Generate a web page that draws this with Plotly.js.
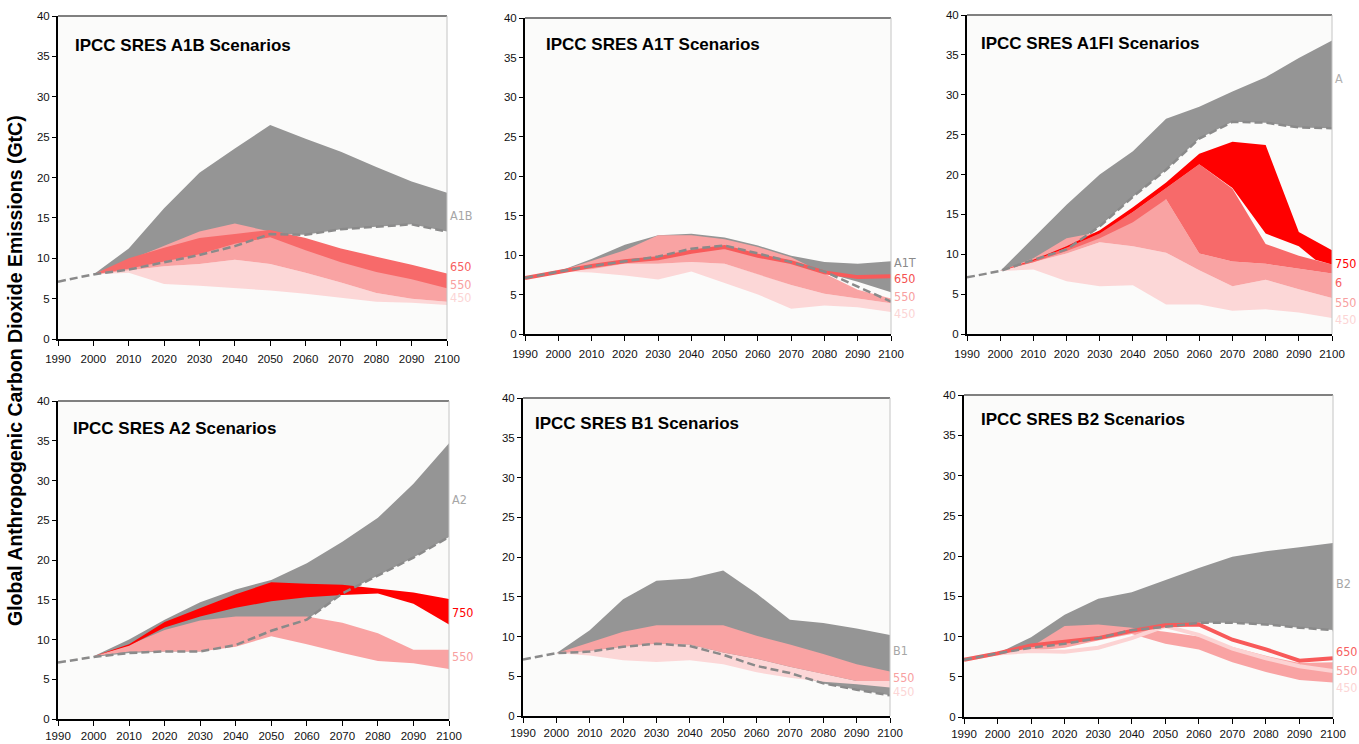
<!DOCTYPE html>
<html>
<head>
<meta charset="utf-8">
<script src="https://cdn.plot.ly/plotly-3.0.1.min.js"></script>
<style>html,body{margin:0;padding:0;background:#fff;}#chart{width:1359px;height:744px;}</style>
</head>
<body>
<div id="chart"></div>
<script>
// ---------- DATA ----------
const YEARS = [1990,2000,2010,2020,2030,2040,2050,2060,2070,2080,2090,2100];
const BAND_YEARS = [2000,2010,2020,2030,2040,2050,2060,2070,2080,2090,2100];
const PANEL_TITLES = ["IPCC SRES A1B Scenarios","IPCC SRES A1T Scenarios","IPCC SRES A1FI Scenarios","IPCC SRES A2 Scenarios","IPCC SRES B1 Scenarios","IPCC SRES B2 Scenarios"];
const Y_TITLE = "Global Anthropogenic Carbon Dioxide Emissions (GtC)";

// A1B
const a1b_base    = [7.1,8.0,8.6,9.5,10.4,11.5,13.0,12.9,13.6,13.9,14.2,13.3];
const a1b_gray_hi = [8.0,11.2,16.2,20.6,23.6,26.5,24.8,23.2,21.3,19.5,18.1];
const a1b_650_hi  = [8.0,10.0,11.3,12.5,13.0,13.5,12.5,11.2,10.2,9.2,8.1];
const a1b_650_lo  = [8.0,8.7,9.6,10.5,11.8,12.6,11.0,9.5,8.3,7.4,6.3];
const a1b_550_hi  = [8.0,9.8,11.5,13.3,14.3,13.3,12.0,10.5,9.2,8.2,7.2];
const a1b_550_lo  = [8.0,8.5,9.0,9.3,9.8,9.3,8.2,7.0,5.7,5.0,4.6];
const a1b_450_lo  = [8.0,8.2,6.8,6.6,6.3,6.0,5.6,5.1,4.6,4.5,4.2];

// A1T
const a1t_base    = [7.1,7.9,8.6,9.2,9.8,10.8,11.2,10.2,9.1,7.9,6.0,4.1];
const a1t_gray_hi = [7.9,9.5,11.3,12.5,12.7,12.2,11.2,9.9,9.1,8.9,9.2];
const a1t_gray_lo = [7.9,8.6,9.2,9.8,10.8,11.2,10.2,9.1,7.8,6.6,5.3];
const a1t_650     = [7.1,7.9,8.6,9.2,9.6,10.4,11.0,9.9,9.1,7.8,7.2,7.3];
const a1t_550_hi  = [7.9,9.3,10.6,12.5,12.5,12.0,11.0,9.7,7.7,5.6,4.5];
const a1t_550_lo  = [7.9,8.2,8.9,8.9,9.1,8.9,7.6,6.2,5.1,4.5,3.9];
const a1t_450_lo  = [7.9,7.8,7.4,6.9,7.9,6.4,5.0,3.2,3.6,3.4,2.8];

// A1FI
const a1fi_base    = [7.1,7.9,9.3,10.6,13.5,17.2,20.6,24.5,26.6,26.5,25.9,25.8];
const a1fi_gray_hi = [7.9,12.0,16.2,20.0,22.9,27.0,28.5,30.4,32.2,34.6,36.8];
const a1fi_750_hi  = [7.9,9.3,11.0,13.0,15.9,19.0,22.6,24.1,23.7,12.8,10.5];
const a1fi_750_lo_years = [2000,2010,2020,2030,2040,2050,2060,2070,2080,2090,2095,2100];
const a1fi_750_lo  = [7.9,9.2,10.8,12.6,15.3,18.3,21.3,18.3,12.6,11.0,9.3,8.7];
const a1fi_650_hi  = [7.9,9.2,10.8,12.6,15.3,18.3,21.3,18.2,11.3,9.8,8.7];
const a1fi_650_lo  = [7.9,9.0,10.4,12.0,14.0,16.9,10.1,9.1,8.8,8.2,7.6];
const a1fi_550_hi  = [7.9,9.5,12.0,12.8,15.2,16.9,10.1,9.1,8.8,8.2,7.6];
const a1fi_550_lo  = [7.9,9.0,10.1,11.5,11.0,10.2,8.0,6.0,6.8,5.6,4.5];
const a1fi_450_lo  = [7.9,8.1,6.6,6.0,6.1,3.7,3.7,2.9,3.1,2.7,2.0];

// A2
const a2_base    = [7.1,7.8,8.3,8.5,8.5,9.3,11.1,12.5,15.8,18.0,20.3,22.9];
const a2_gray_hi = [7.9,10.0,12.5,14.7,16.3,17.5,19.6,22.3,25.3,29.6,34.7];
const a2_750_hi  = [7.9,9.4,12.2,13.9,15.7,17.2,17.0,16.9,16.4,15.9,15.1];
const a2_750_lo  = [7.9,9.2,11.5,12.9,14.0,14.8,15.3,15.6,15.8,14.5,11.9];
const a2_550_hi  = [7.9,9.3,11.2,12.4,12.9,12.9,12.9,12.1,10.8,8.7,8.7];
const a2_550_lo  = [7.9,8.5,8.5,8.5,9.1,10.4,9.4,8.3,7.3,7.0,6.3];

// B1
const b1_base    = [7.1,7.9,8.1,8.7,9.1,8.8,7.7,6.3,5.4,4.1,3.3,2.6];
const b1_gray_hi = [7.9,10.8,14.7,17.0,17.3,18.3,15.4,12.1,11.7,11.0,10.2];
const b1_550_hi  = [7.9,9.3,10.6,11.4,11.4,11.4,10.1,9.0,7.8,6.5,5.6];
const b1_550_lo  = [7.9,8.2,8.7,9.1,9.0,8.0,7.2,6.2,5.3,4.4,4.4];
const b1_450_lo  = [7.9,7.6,7.0,6.8,7.0,6.5,5.5,4.8,4.3,4.0,3.6];

// B2
const b2_base    = [7.1,7.9,8.6,9.1,9.8,10.8,11.2,11.7,11.7,11.5,11.1,10.8];
const b2_gray_hi = [7.9,9.9,12.7,14.7,15.5,17.0,18.5,19.9,20.6,21.1,21.6];
const b2_650     = [7.1,7.9,8.9,9.4,9.8,10.7,11.4,11.5,9.6,8.4,7.0,7.3];
const b2_550_hi  = [7.9,8.7,11.3,11.5,11.1,10.6,10.0,8.7,7.6,6.7,6.8];
const b2_550_lo  = [7.9,8.2,8.6,9.5,10.3,9.1,8.4,6.8,5.6,4.6,4.3];
const b2_450     = [7.1,7.9,8.2,8.1,8.6,9.8,11.3,10.2,8.5,7.3,6.3,5.7];

// right-hand labels
const LABEL_PANEL = [1,1,1,1, 2,2,2,2, 3,3,3,3,3, 4,4,4, 5,5,5, 6,6,6,6];
const LABEL_TEXT  = ["A1B","650","550","450", "A1T","650","550","450", "A","750","6","550","450", "A2","750","550", "B1","550","450", "B2","650","550","450"];
const LABEL_VALUE = [15.3,9.0,6.8,5.1, 9.0,7.0,4.8,2.6, 32.0,8.8,6.5,4.0,1.8, 27.6,13.4,7.8, 8.2,4.9,3.1, 16.6,8.1,5.8,3.7];
const LABEL_COLOR = ["#a6a6a6","#f76060","#f8a0a0","#fcd5d5", "#8a8a8a","#f55050","#f8a0a0","#fcd5d5", "#b0b0b0","#ff0000","#f76060","#f8a0a0","#fcd5d5", "#a6a6a6","#ff0000","#f8a0a0", "#a6a6a6","#f8a0a0","#fcd5d5", "#a6a6a6","#f76060","#f8a0a0","#fcd5d5"];

// ---------- STYLE ----------
const W = 1359, H = 744;
const C_GRAY = '#959595', C750 = '#ff0000', C650 = '#f76a6a', C550 = '#f9a3a3', C450 = '#fcd7d7';
const C_BASE = '#8a8a8a';
const SANS = "'Liberation Sans',Arial,sans-serif";
const NARROW = "'DejaVu Sans Condensed','Liberation Sans',sans-serif";
// panel pixel boxes [left,right,top,bottom]
const BOX = [[58,447,16,339],[525,891,18,334],[967,1332,15,334],[58,449,401,719],[523,890,398,716],[964,1333,395,717]];
const TITLE_POS = [[0.039,0.91],[0.052,0.915],[0.033,0.912],[0.033,0.915],[0.027,0.921],[0.04,0.925]];

const traces = [];
function ax(i){ return i===1 ? ['x','y'] : ['x'+i,'y'+i]; }
function band(i, xu, up, xl, lo, color){
  const [xa,ya] = ax(i);
  traces.push({type:'scatter', mode:'lines', xaxis:xa, yaxis:ya,
    x: xu.concat(xl.slice().reverse()), y: up.concat(lo.slice().reverse()),
    fill:'toself', fillcolor:color, line:{color:'rgba(0,0,0,0)', width:0}, hoverinfo:'skip', showlegend:false});
}
function line(i, xs, ys, color, width, dash){
  const [xa,ya] = ax(i);
  traces.push({type:'scatter', mode:'lines', xaxis:xa, yaxis:ya, x:xs, y:ys,
    line:{color:color, width:width, dash:dash||'solid'}, hoverinfo:'skip', showlegend:false});
}
const tail = a => a.slice(1);

// A1B
band(1, BAND_YEARS, a1b_gray_hi, BAND_YEARS, tail(a1b_base), C_GRAY);
band(1, BAND_YEARS, a1b_550_lo, BAND_YEARS, a1b_450_lo, C450);
band(1, BAND_YEARS, a1b_550_hi, BAND_YEARS, a1b_550_lo, C550);
band(1, BAND_YEARS, a1b_650_hi, BAND_YEARS, a1b_650_lo, C650);
line(1, YEARS, a1b_base, C_BASE, 2.5, '8px,4px');
// A1T
band(2, BAND_YEARS, a1t_gray_hi, BAND_YEARS, a1t_gray_lo, C_GRAY);
band(2, BAND_YEARS, a1t_550_lo, BAND_YEARS, a1t_450_lo, C450);
band(2, BAND_YEARS, a1t_550_hi, BAND_YEARS, a1t_550_lo, C550);
line(2, YEARS, a1t_650, '#f85a5a', 4);
line(2, YEARS, a1t_base, C_BASE, 2.5, '8px,4px');
// A1FI
band(3, BAND_YEARS, a1fi_gray_hi, BAND_YEARS, tail(a1fi_base), C_GRAY);
band(3, BAND_YEARS, a1fi_550_lo, BAND_YEARS, a1fi_450_lo, C450);
band(3, BAND_YEARS, a1fi_550_hi, BAND_YEARS, a1fi_550_lo, C550);
band(3, BAND_YEARS, a1fi_650_hi, BAND_YEARS, a1fi_650_lo, C650);
band(3, BAND_YEARS, a1fi_750_hi, a1fi_750_lo_years, a1fi_750_lo, C750);
line(3, YEARS, a1fi_base, C_BASE, 2.5, '8px,4px');
// A2
band(4, BAND_YEARS, a2_gray_hi, BAND_YEARS, tail(a2_base), C_GRAY);
band(4, BAND_YEARS, a2_550_hi, BAND_YEARS, a2_550_lo, C550);
band(4, BAND_YEARS, a2_750_hi, BAND_YEARS, a2_750_lo, C750);
line(4, YEARS, a2_base, C_BASE, 2.5, '8px,4px');
// B1
band(5, BAND_YEARS, b1_gray_hi, BAND_YEARS, tail(b1_base), C_GRAY);
band(5, BAND_YEARS, b1_550_lo, BAND_YEARS, b1_450_lo, C450);
band(5, BAND_YEARS, b1_550_hi, BAND_YEARS, b1_550_lo, C550);
line(5, YEARS, b1_base, C_BASE, 2.5, '8px,4px');
// B2
band(6, BAND_YEARS, b2_gray_hi, BAND_YEARS, tail(b2_base), C_GRAY);
band(6, BAND_YEARS, b2_550_hi, BAND_YEARS, b2_550_lo, C550);
line(6, YEARS, b2_450, '#fcd3d3', 4);
line(6, YEARS, b2_650, '#f85a5a', 4);
line(6, YEARS, b2_base, C_BASE, 2.5, '8px,4px');

// ---------- LAYOUT ----------
const layout = {
  width: W, height: H, margin:{l:0,r:0,t:0,b:0},
  paper_bgcolor:'#ffffff', plot_bgcolor:'#fbfbfa', showlegend:false,
  font:{family:SANS, size:12, color:'#111'},
  annotations:[], shapes:[]
};
for (let i=1;i<=6;i++){
  const b = BOX[i-1];
  const xk = i===1?'xaxis':'xaxis'+i, yk = i===1?'yaxis':'yaxis'+i;
  const [xa,ya] = ax(i);
  layout[xk] = {domain:[b[0]/W, b[1]/W], anchor:ya, range:[1990,2100], tick0:1990, dtick:10,
    showline:true, linecolor:'#000', linewidth:2, ticks:'outside', ticklen:5, tickwidth:1, tickcolor:'#000',
    ticklabelstandoff: i<=3 ? 3 : 0,
    showgrid:false, zeroline:false, fixedrange:true, tickfont:{family:SANS, size:11.5, color:'#111'}};
  layout[yk] = {domain:[1-b[3]/H, 1-b[2]/H], anchor:xa, range:[0,40], tick0:0, dtick:5,
    showline:true, linecolor:'#000', linewidth:2, ticks:'outside', ticklen:4, tickwidth:1, tickcolor:'#000',
    showgrid:false, zeroline:false, fixedrange:true, tickfont:{family:SANS, size:11.5, color:'#111'}};
  layout.shapes.push({type:'line', xref:xa+' domain', yref:ya+' domain', x0:0, x1:1, y0:1, y1:1, line:{color:'#808080', width:2}});
  layout.shapes.push({type:'line', xref:xa+' domain', yref:ya+' domain', x0:1, x1:1, y0:0, y1:1, line:{color:'#c4c4c4', width:1}});
  layout.annotations.push({text:PANEL_TITLES[i-1], xref:xa+' domain', yref:ya+' domain',
    x:TITLE_POS[i-1][0], y:TITLE_POS[i-1][1], xanchor:'left', yanchor:'middle', showarrow:false,
    font:{family:SANS, size:17, color:'#000', weight:'bold'}});
}
for (let k=0;k<LABEL_TEXT.length;k++){
  const [xa,ya] = ax(LABEL_PANEL[k]);
  layout.annotations.push({text:LABEL_TEXT[k], xref:xa+' domain', yref:ya, x:1, y:LABEL_VALUE[k],
    xanchor:'left', yanchor:'middle', xshift:1, showarrow:false,
    font:{family:NARROW, size:12.5, color:LABEL_COLOR[k]}});
}
layout.annotations.push({text:Y_TITLE, xref:'paper', yref:'paper', x:15/W, y:1-371/H,
  xanchor:'center', yanchor:'middle', textangle:-90, showarrow:false,
  font:{family:SANS, size:19.5, color:'#000', weight:'bold'}});

Plotly.newPlot('chart', traces, layout, {staticPlot:true, displayModeBar:false});
</script>
</body>
</html>
